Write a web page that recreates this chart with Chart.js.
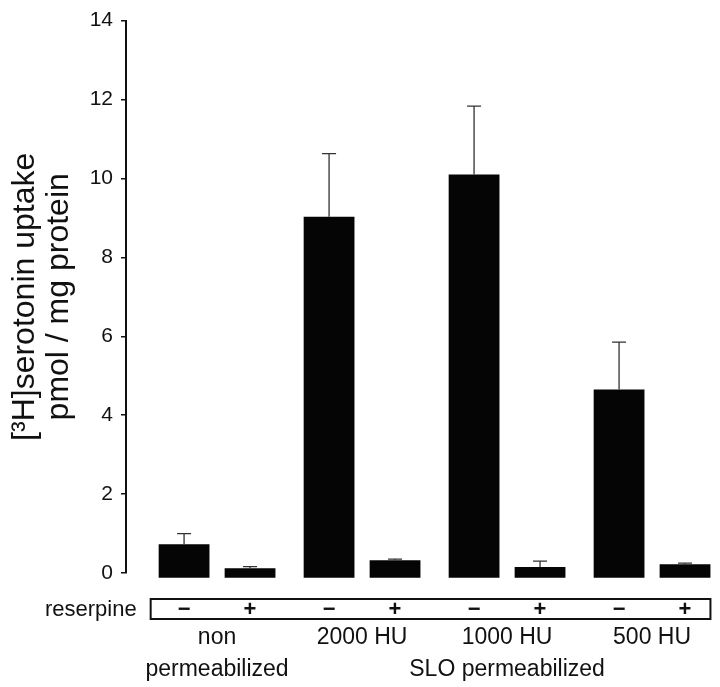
<!DOCTYPE html>
<html>
<head>
<meta charset="utf-8">
<script src="https://cdn.jsdelivr.net/npm/chart.js@4"></script>
<style>
  body { margin: 0; background: #fff; }
  #wrap { width: 720px; height: 687px; }
</style>
</head>
<body>
<div id="wrap"><canvas id="uptakeChart" width="720" height="687"></canvas></div>
<script>
// values (pmol / mg protein)
const groups = ['non', '2000 HU', '1000 HU', '500 HU'];
const withoutReserpine = [0.73, 9.03, 10.1, 4.65];
const withoutReserpineErr = [0.27, 1.6, 1.73, 1.2];
const withReserpine = [0.12, 0.32, 0.15, 0.22];
const withReserpineErr = [0.04, 0.03, 0.15, 0.03];
const reserpineSigns = ['−', '+'];
const yTicks = [0, 2, 4, 6, 8, 10, 12, 14];
const footerRows = [
  { text: 'permeabilized', first: 0, last: 0 },
  { text: 'SLO permeabilized', first: 1, last: 3 },
];
const titleLines = ['[³H]serotonin uptake', 'pmol / mg protein'];

const FONT = "'Liberation Sans', Arial, sans-serif";
const BAR_BASE = -0.12; // bars in the original sit a little under the 0 tick

const extras = {
  id: 'extras',
  afterDatasetsDraw(chart) {
    const { ctx, chartArea, scales: { x, y } } = chart;
    const sets = [withoutReserpineErr, withReserpineErr];

    // error bars (upward only)
    ctx.save();
    ctx.strokeStyle = '#333';
    ctx.lineWidth = 1.3;
    chart.data.datasets.forEach((ds, d) => {
      chart.getDatasetMeta(d).data.forEach((bar, i) => {
        const top = y.getPixelForValue(ds.data[i].y + sets[d][i]);
        ctx.beginPath();
        ctx.moveTo(bar.x, bar.y);
        ctx.lineTo(bar.x, top);
        ctx.moveTo(bar.x - 7, top);
        ctx.lineTo(bar.x + 7, top);
        ctx.stroke();
      });
    });
    ctx.restore();

    // reserpine row
    const first = chart.getDatasetMeta(0).data[0];
    const lastMeta = chart.getDatasetMeta(1).data;
    const last = lastMeta[lastMeta.length - 1];
    const boxLeft = first.x - first.width / 2 - 8;
    const boxRight = last.x + last.width / 2;
    const boxTop = chartArea.bottom + 26;
    const boxH = 20;
    ctx.save();
    ctx.strokeStyle = '#111';
    ctx.lineWidth = 2;
    ctx.strokeRect(boxLeft, boxTop, boxRight - boxLeft, boxH);
    ctx.fillStyle = '#111';
    ctx.font = `22px ${FONT}`;
    ctx.textAlign = 'right';
    ctx.textBaseline = 'middle';
    ctx.fillText('reserpine', boxLeft - 14, boxTop + boxH / 2 + 1);
    ctx.font = `bold 22px ${FONT}`;
    ctx.textAlign = 'center';
    chart.data.datasets.forEach((ds, d) => {
      chart.getDatasetMeta(d).data.forEach((bar) => {
        ctx.fillText(reserpineSigns[d], bar.x, boxTop + boxH / 2 + 1);
      });
    });

    // group labels and footer rows
    ctx.font = `23px ${FONT}`;
    ctx.textBaseline = 'alphabetic';
    groups.forEach((g, i) => {
      ctx.fillText(g, x.getPixelForValue(i), chartArea.bottom + 71);
    });
    footerRows.forEach((row) => {
      const cx = (x.getPixelForValue(row.first) + x.getPixelForValue(row.last)) / 2;
      ctx.fillText(row.text, cx, chartArea.bottom + 103);
    });

    // rotated two-line axis title
    const cy = (chartArea.top + chartArea.bottom) / 2;
    ctx.font = `32px ${FONT}`;
    ctx.translate(34, cy);
    ctx.rotate(-Math.PI / 2);
    ctx.fillText(titleLines[0], 0, 0);
    ctx.fillText(titleLines[1], 0, 34);
    ctx.restore();
  },
};

const barStyle = {
  backgroundColor: '#050505',
  borderWidth: 0,
  base: BAR_BASE,
  clip: false,
  categoryPercentage: 0.91,
  barPercentage: 0.77,
};

new Chart(document.getElementById('uptakeChart'), {
  type: 'bar',
  data: {
    datasets: [
      { label: 'reserpine −', data: withoutReserpine.map((v, i) => ({ x: i, y: v })), ...barStyle },
      { label: 'reserpine +', data: withReserpine.map((v, i) => ({ x: i, y: v })), ...barStyle },
    ],
  },
  options: {
    responsive: false,
    animation: false,
    layout: { padding: { top: 13, right: 4, bottom: 114, left: 0 } },
    plugins: { legend: { display: false }, tooltip: { enabled: false } },
    scales: {
      x: {
        type: 'linear',
        display: false,
        offset: false,
        min: -0.628,
        max: 3.441,
        afterBuildTicks: (s) => { s.ticks = groups.map((g, i) => ({ value: i })); },
      },
      y: {
        min: 0,
        max: 14,
        afterBuildTicks: (s) => { s.ticks = yTicks.map((v) => ({ value: v })); },
        afterFit: (s) => { s.width = 126; },
        border: { display: true, color: '#111', width: 2 },
        grid: { drawOnChartArea: false, drawTicks: true, tickLength: 5, color: '#111', lineWidth: 1.5 },
        ticks: { padding: 8, color: '#111', font: { family: FONT, size: 21 } },
      },
    },
  },
  plugins: [extras],
});
</script>
</body>
</html>
